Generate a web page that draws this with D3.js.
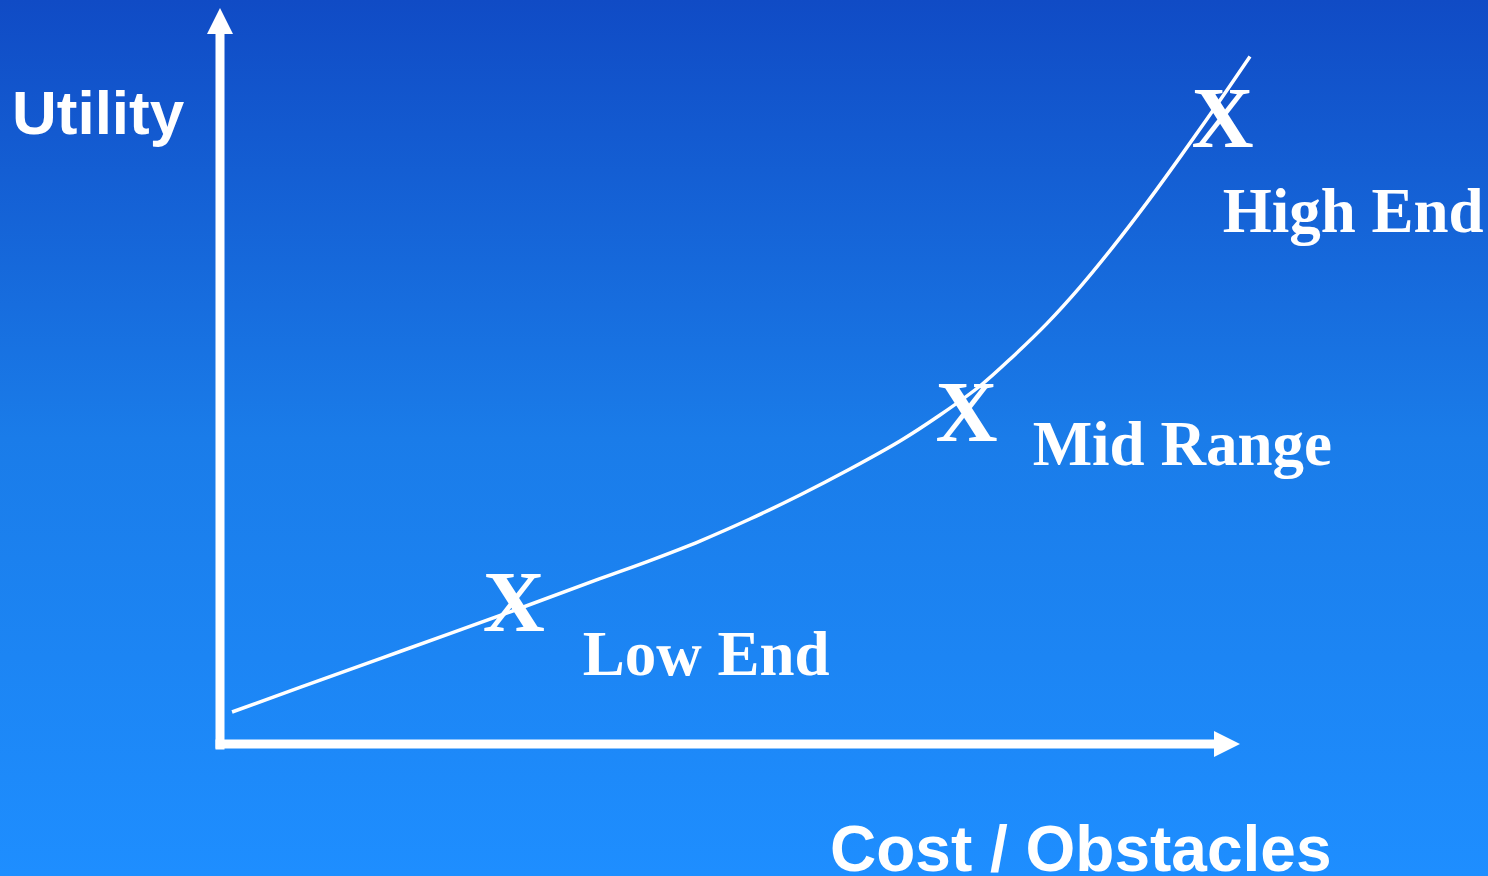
<!DOCTYPE html>
<html>
<head>
<meta charset="utf-8">
<script src="https://cdn.jsdelivr.net/npm/d3@7"></script>
<style>
  html, body { margin: 0; padding: 0; overflow: hidden; }
  svg { display: block; }
</style>
</head>
<body>
<div id="chart"></div>
<script>
// curve (cost 0-100, utility 0-100)
const cost    = [1.18, 7.84, 17.65, 28.82, 37.25, 42.16, 47.06, 51.96, 56.86, 61.76, 66.67, 70.59, 74.51, 77.75, 81.08, 84.31, 87.55, 90.88, 94.12, 97.55, 100.98];
const utility = [4.35, 7.68, 12.57, 18.14, 22.46, 24.93, 27.58, 30.57, 33.83, 37.36, 41.17, 44.70, 48.64, 52.66, 57.15, 62.08, 67.55, 73.56, 79.74, 86.49, 93.40];

// the three X marks
const segments    = ["Low End", "Mid Range", "High End"];
const segCost     = [28.8, 73.2, 98.3];
const segUtility  = [19.3, 45.1, 85.1];

const xTitle = "Cost / Obstacles";
const yTitle = "Utility";

const W = 1488, H = 876;

const svg = d3.select("#chart")
    .append("svg")
    .attr("width", W)
    .attr("height", H);

// background gradient
const grad = svg.append("defs").append("linearGradient")
    .attr("id", "bg")
    .attr("x1", 0).attr("y1", 0).attr("x2", 0).attr("y2", 1);
grad.append("stop").attr("offset", "0%").attr("stop-color", "#104bc5");
grad.append("stop").attr("offset", "50%").attr("stop-color", "#1a7ce9");
grad.append("stop").attr("offset", "100%").attr("stop-color", "#1e8eff");

svg.append("rect")
    .attr("width", W).attr("height", H)
    .attr("fill", "url(#bg)");

let x = d3.scaleLinear().domain([0, 100]).range([220, 1240]);
let y = d3.scaleLinear().domain([0, 100]).range([744, 8]);

const arrowLen = 26, arrowHalf = 13;

// axes, no ticks, thick white domain lines
let xAxis = d3.axisBottom(x).ticks(0).tickSizeOuter(0);
let yAxis = d3.axisLeft(y).ticks(0).tickSizeOuter(0);

let xAxisGroup = svg.append("g")
    .attr("class", "x-axis")
    .attr("transform", "translate(0," + y(0) + ")")
    .call(xAxis);
let yAxisGroup = svg.append("g")
    .attr("class", "y-axis")
    .attr("transform", "translate(" + x(0) + ",0)")
    .call(yAxis);

// shorten domain lines so the arrow heads sit on the ends
xAxisGroup.select(".domain")
    .attr("d", "M" + (x(0) - 4.5) + ",0H" + (x(100) - arrowLen + 1))
    .attr("stroke", "white").attr("stroke-width", 9);
yAxisGroup.select(".domain")
    .attr("d", "M0," + (y(0) + 5.5) + "V" + (y(100) + arrowLen - 1))
    .attr("stroke", "white").attr("stroke-width", 9);

// arrow heads
svg.append("path")
    .attr("d", "M" + x(100) + "," + y(0) +
               "L" + (x(100) - arrowLen) + "," + (y(0) - arrowHalf) +
               "L" + (x(100) - arrowLen) + "," + (y(0) + arrowHalf) + "Z")
    .attr("fill", "white");
svg.append("path")
    .attr("d", "M" + x(0) + "," + y(100) +
               "L" + (x(0) - arrowHalf) + "," + (y(100) + arrowLen) +
               "L" + (x(0) + arrowHalf) + "," + (y(100) + arrowLen) + "Z")
    .attr("fill", "white");

// utility curve
const pts = cost.map((c, i) => [c, utility[i]]);
const line = d3.line()
    .x(d => x(d[0]))
    .y(d => y(d[1]))
    .curve(d3.curveCatmullRom.alpha(0.5));

svg.append("path")
    .datum(pts)
    .attr("d", line)
    .attr("fill", "none")
    .attr("stroke", "white")
    .attr("stroke-width", 3.5);

// X marks
svg.selectAll(".mark")
    .data(segments)
    .enter()
    .append("text")
    .attr("class", "mark")
    .attr("x", (d, i) => x(segCost[i]))
    .attr("y", (d, i) => y(segUtility[i]))
    .attr("dy", "0.34em")
    .attr("text-anchor", "middle")
    .style("font-family", "'Liberation Serif', 'Times New Roman', serif")
    .style("font-weight", "bold")
    .style("font-size", "86px")
    .style("fill", "white")
    .text("X");

// segment labels, offset from their mark
const labelDx = [69, 66, 0];
const labelDy = [73, 53, 114];
svg.selectAll(".seg-label")
    .data(segments)
    .enter()
    .append("text")
    .attr("class", "seg-label")
    .attr("x", (d, i) => x(segCost[i]) + labelDx[i])
    .attr("y", (d, i) => y(segUtility[i]) + labelDy[i])
    .style("font-family", "'Liberation Serif', 'Times New Roman', serif")
    .style("font-weight", "bold")
    .style("font-size", "63px")
    .style("fill", "white")
    .text(d => d);

// axis titles
svg.append("text")
    .attr("x", 12)
    .attr("y", 134)
    .style("font-family", "'Liberation Sans', Arial, sans-serif")
    .style("font-weight", "bold")
    .style("font-size", "62px")
    .style("fill", "white")
    .text(yTitle);

svg.append("text")
    .attr("x", 830)
    .attr("y", 871)
    .style("font-family", "'Liberation Sans', Arial, sans-serif")
    .style("font-weight", "bold")
    .style("font-size", "64px")
    .style("fill", "white")
    .text(xTitle);
</script>
</body>
</html>
